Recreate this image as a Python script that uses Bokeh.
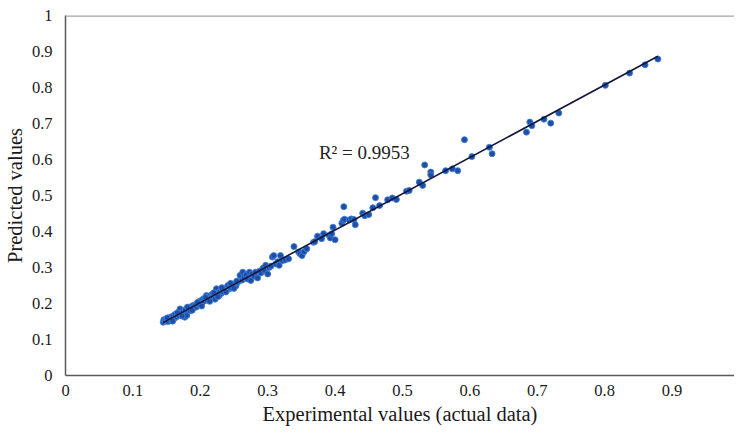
import numpy as np
from bokeh.plotting import figure
from bokeh.models import ColumnDataSource, FixedTicker, CustomJSTickFormatter, Span, Range1d
from bokeh.core.properties import value
from bokeh.embed import file_html
from bokeh.resources import INLINE

# Experimental (actual) values and predicted values
experimental = [
    0.145, 0.146, 0.148, 0.150, 0.152, 0.153, 0.155, 0.157, 0.158, 0.160,
    0.162, 0.163, 0.165, 0.167, 0.168, 0.170, 0.172, 0.174, 0.176, 0.177,
    0.178, 0.180, 0.182, 0.184, 0.185, 0.187, 0.189, 0.190, 0.192, 0.194,
    0.195, 0.197, 0.198, 0.200, 0.201, 0.203, 0.204, 0.206, 0.207, 0.209,
    0.210, 0.212, 0.213, 0.215, 0.216, 0.218, 0.219, 0.221, 0.222, 0.224,
    0.225, 0.227, 0.228, 0.230, 0.231, 0.233, 0.234, 0.236, 0.237, 0.239,
    0.240, 0.241, 0.243, 0.244, 0.246, 0.248, 0.249, 0.251, 0.253, 0.255,
    0.257, 0.259, 0.262, 0.263, 0.265, 0.268, 0.270, 0.273, 0.275, 0.277,
    0.280, 0.282, 0.285, 0.288, 0.290, 0.293, 0.295, 0.297, 0.300, 0.302,
    0.305, 0.307, 0.309, 0.312, 0.315, 0.317, 0.319, 0.322, 0.326, 0.331,
    0.339, 0.346, 0.348, 0.351, 0.354, 0.358, 0.368, 0.370, 0.374, 0.380,
    0.383, 0.391, 0.393, 0.395, 0.397, 0.400, 0.410, 0.412, 0.413, 0.414,
    0.421, 0.424, 0.428, 0.430, 0.441, 0.444, 0.450, 0.456, 0.460, 0.466,
    0.478, 0.485, 0.491, 0.506, 0.510, 0.525, 0.530, 0.533, 0.542, 0.542,
    0.564, 0.574, 0.582, 0.592, 0.603, 0.629, 0.633, 0.684, 0.689, 0.692,
    0.710, 0.720, 0.732, 0.801, 0.837, 0.860, 0.879,
    0.151, 0.159, 0.166, 0.173, 0.181, 0.188, 0.196, 0.202, 0.208, 0.214,
    0.220, 0.226, 0.232, 0.238, 0.245, 0.250, 0.254,
]
predicted = [
    0.148, 0.155, 0.152, 0.158, 0.150, 0.160, 0.156, 0.163, 0.154, 0.166,
    0.159, 0.170, 0.163, 0.175, 0.167, 0.185, 0.172, 0.178, 0.170, 0.162,
    0.183, 0.167, 0.181, 0.188, 0.180, 0.192, 0.186, 0.195, 0.194, 0.190,
    0.200, 0.197, 0.205, 0.199, 0.208, 0.203, 0.212, 0.207, 0.215, 0.222,
    0.210, 0.218, 0.213, 0.222, 0.216, 0.226, 0.219, 0.228, 0.212, 0.241,
    0.225, 0.231, 0.222, 0.235, 0.228, 0.238, 0.232, 0.242, 0.236, 0.244,
    0.238, 0.250, 0.241, 0.247, 0.243, 0.251, 0.246, 0.253, 0.249, 0.258,
    0.262, 0.278, 0.265, 0.287, 0.272, 0.280, 0.268, 0.287, 0.264, 0.282,
    0.276, 0.287, 0.271, 0.290, 0.285, 0.298, 0.292, 0.306, 0.282, 0.300,
    0.304, 0.329, 0.333, 0.310, 0.316, 0.306, 0.333, 0.319, 0.321, 0.324,
    0.358, 0.343, 0.338, 0.333, 0.344, 0.352, 0.370, 0.372, 0.387, 0.380,
    0.394, 0.389, 0.382, 0.394, 0.412, 0.377, 0.423, 0.431, 0.469, 0.434,
    0.432, 0.435, 0.433, 0.419, 0.451, 0.444, 0.447, 0.466, 0.494, 0.472,
    0.488, 0.493, 0.489, 0.512, 0.514, 0.537, 0.528, 0.585, 0.565, 0.557,
    0.569, 0.574, 0.569, 0.655, 0.608, 0.634, 0.616, 0.676, 0.704, 0.694,
    0.712, 0.701, 0.729, 0.806, 0.840, 0.863, 0.879,
    0.160, 0.151, 0.174, 0.165, 0.190, 0.181, 0.203, 0.193, 0.217, 0.206,
    0.230, 0.219, 0.244, 0.232, 0.256, 0.242, 0.262,
]

x_ticks = [0, 0.1, 0.2, 0.3, 0.4, 0.5, 0.6, 0.7, 0.8, 0.9, 1]
x_tick_labels = ["0", "0.1", "0.2", "0.3", "0.4", "0.5", "0.6", "0.7", "0.8", "0.9", "1"]
y_ticks = [0, 0.1, 0.2, 0.3, 0.4, 0.5, 0.6, 0.7, 0.8, 0.9, 1]
y_tick_labels = ["0", "0.1", "0.2", "0.3", "0.4", "0.5", "0.6", "0.7", "0.8", "0.9", "1"]
r2_label = "R\u00b2 = 0.9953"
x_title = "Experimental values (actual data)"
y_title = "Predicted values"

FONT = "Liberation Serif"

p = figure(width=734, height=427, output_backend="svg", toolbar_location=None,
           x_range=Range1d(0, 0.9927), y_range=Range1d(0, 1),
           min_border_left=58, min_border_right=0, min_border_top=15, min_border_bottom=52)
p.outline_line_color = None
p.xgrid.visible = False
p.ygrid.visible = False
p.background_fill_color = "white"
p.border_fill_color = "white"

# top border line
p.add_layout(Span(location=1, dimension="width", line_color="#a6a6a6", line_width=2.5))

# trendline (least squares fit of the data)
xs = np.array(experimental)
ys = np.array(predicted)
slope, intercept = np.polyfit(xs, ys, 1)
tx = [float(xs.min()), float(xs.max())]
ty = [float(slope * v + intercept) for v in tx]

src = ColumnDataSource(dict(x=experimental, y=predicted))
p.scatter("x", "y", source=src, size=6, fill_color="#1f4ea3", line_color="#3b7ddb",
          line_width=0.9)
p.line(tx, ty, line_color="#15153a", line_width=1.6)

p.text(x=[0.376], y=[0.619], text=[r2_label], text_font=value(FONT),
       text_font_size="19px", text_color="#222222", text_baseline="middle",
       text_align="left")

fmt_code = """
let best = 0; let bd = 1e9;
for (let i = 0; i < tv.length; i++) { const d = Math.abs(tv[i] - tick); if (d < bd) { bd = d; best = i; } }
return tl[best];
"""

for ax, tks, labels, title in ((p.xaxis[0], x_ticks, x_tick_labels, x_title),
                               (p.yaxis[0], y_ticks, y_tick_labels, y_title)):
    ax.ticker = FixedTicker(ticks=tks)
    ax.formatter = CustomJSTickFormatter(args=dict(tv=tks, tl=labels), code=fmt_code)
    ax.axis_label = title
    ax.axis_label_text_font = FONT
    ax.axis_label_text_font_style = "normal"
    ax.axis_label_text_font_size = "20.5px"
    ax.axis_label_text_color = "#1a1a1a"
    ax.major_label_text_font = FONT
    ax.major_label_text_font_size = "16.5px"
    ax.major_label_text_color = "#1a1a1a"
    ax.major_tick_line_color = None
    ax.minor_tick_line_color = None
    ax.major_tick_out = 0
    ax.major_tick_in = 0
    ax.axis_line_color = "#595959"
    ax.axis_line_width = 1.5

p.xaxis.major_label_standoff = 9
p.xaxis.axis_label_standoff = 4
p.yaxis.major_label_standoff = 13
p.yaxis.axis_label_standoff = 3

open("out.html", "w").write(file_html(p, INLINE))
